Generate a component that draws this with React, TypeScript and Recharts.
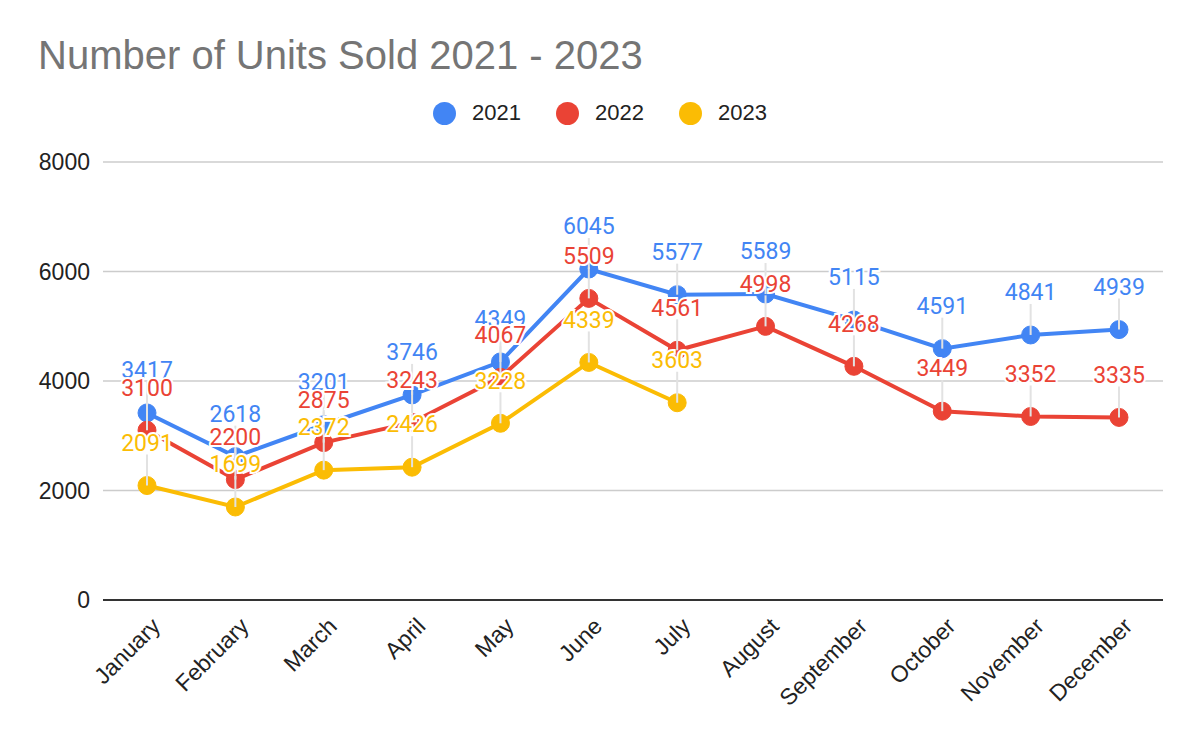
import { LineChart, Line, XAxis, YAxis, CartesianGrid } from "recharts";

const months = [
  "January", "February", "March", "April", "May", "June",
  "July", "August", "September", "October", "November", "December",
];
const sold2021 = [3417, 2618, 3201, 3746, 4349, 6045, 5577, 5589, 5115, 4591, 4841, 4939];
const sold2022 = [3100, 2200, 2875, 3243, 4067, 5509, 4561, 4998, 4268, 3449, 3352, 3335];
const sold2023 = [2091, 1699, 2372, 2426, 3228, 4339, 3603, null, null, null, null, null];
const yTicks = [0, 2000, 4000, 6000, 8000];

const series = [
  { key: "y2021", name: "2021", color: "#4285F4" },
  { key: "y2022", name: "2022", color: "#EA4335" },
  { key: "y2023", name: "2023", color: "#FBBC04" },
];

const data = months.map((m, i) => ({
  month: m,
  y2021: sold2021[i],
  y2022: sold2022[i],
  y2023: sold2023[i],
}));

const LABEL_LIFT = 43;

function Leader(props: any) {
  const { x, y, value } = props;
  if (value == null || x == null || y == null) return null;
  return <line x1={x} x2={x} y1={y - LABEL_LIFT + 12} y2={y} stroke="#e2e2e2" strokeWidth={2} />;
}

function ValueLabel(props: any) {
  const { x, y, value, color } = props;
  if (value == null || x == null || y == null) return null;
  return (
    <text
      x={x}
      y={y - LABEL_LIFT}
      dy="0.36em"
      textAnchor="middle"
      fill={color}
      stroke="#fff"
      strokeWidth={4}
      paintOrder="stroke"
      style={{ fontFamily: "Roboto", fontSize: 23 }}
    >
      {value}
    </text>
  );
}

function MonthTick(props: any) {
  const { x, y, payload } = props;
  const ax = x + 9;
  const ay = y + 14;
  return (
    <text
      x={ax}
      y={ay}
      transform={`rotate(-45, ${ax}, ${ay})`}
      textAnchor="end"
      dy="0.35em"
      fill="#222"
      style={{ fontFamily: "Liberation Sans", fontSize: 23 }}
    >
      {payload.value}
    </text>
  );
}

export default function App() {
  return (
    <div style={{ position: "relative", width: 1200, height: 742, background: "#fff" }}>
      <style>{"body{margin:0}"}</style>
      <div
        style={{
          position: "absolute", left: 38, top: 35, lineHeight: "40px",
          fontFamily: "Liberation Sans", fontSize: 40, color: "#757575",
        }}
      >
        Number of Units Sold 2021 - 2023
      </div>
      <div
        style={{
          position: "absolute", top: 100, left: 0, width: 1200, display: "flex",
          justifyContent: "center", alignItems: "center", fontFamily: "Liberation Sans",
          fontSize: 22, color: "#222",
        }}
      >
        {series.map((s, i) => (
          <div key={s.key} style={{ display: "flex", alignItems: "center", marginRight: i < 2 ? 35 : 0 }}>
            <span style={{ width: 23, height: 23, borderRadius: "50%", background: s.color, marginRight: 16 }} />
            <span>{s.name}</span>
          </div>
        ))}
      </div>
      <div style={{ position: "absolute", left: 0, top: 0 }}>
        <LineChart width={1200} height={742} data={data} margin={{ top: 162, right: 37, bottom: 0, left: 13 }}>
          <CartesianGrid vertical={false} stroke="#cccccc" strokeWidth={1.5} />
          <XAxis
            dataKey="month"
            padding={{ left: 44, right: 44 }}
            tickLine={false}
            axisLine={{ stroke: "#333", strokeWidth: 2 }}
            tick={<MonthTick />}
            interval={0}
            height={142}
          />
          <YAxis
            width={90}
            domain={[0, 8000]}
            ticks={yTicks}
            axisLine={false}
            tickLine={false}
            tickMargin={7}
            tick={{ fill: "#222", fontSize: 23, fontFamily: "Liberation Sans" }}
          />
          {series.map((s) => (
            <Line
              key={"lead" + s.key}
              dataKey={s.key}
              stroke="none"
              dot={false}
              activeDot={false}
              legendType="none"
              isAnimationActive={false}
              label={<Leader />}
            />
          ))}
          {series.map((s) => (
            <Line
              key={s.key}
              dataKey={s.key}
              name={s.name}
              stroke={s.color}
              strokeWidth={4}
              dot={{ r: 9, fill: s.color, stroke: s.color, strokeWidth: 1 }}
              activeDot={false}
              isAnimationActive={false}
            />
          ))}
          {series.map((s) => (
            <Line
              key={"lab" + s.key}
              dataKey={s.key}
              stroke="none"
              dot={false}
              activeDot={false}
              legendType="none"
              isAnimationActive={false}
              label={<ValueLabel color={s.color} />}
            />
          ))}
        </LineChart>
      </div>
    </div>
  );
}
